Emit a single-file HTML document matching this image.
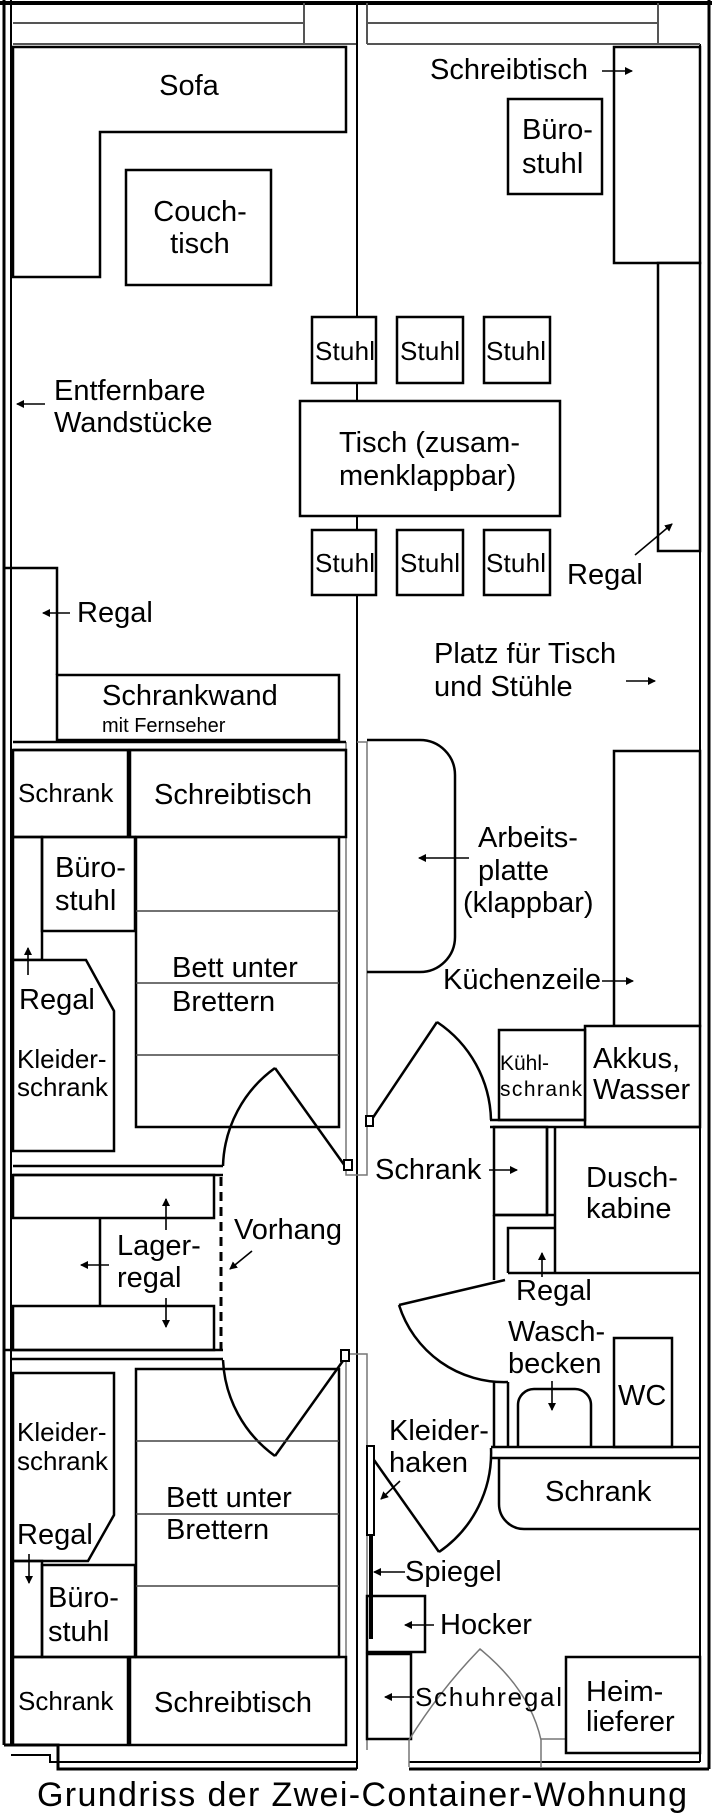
<!DOCTYPE html>
<html><head><meta charset="utf-8"><style>
html,body{margin:0;padding:0;background:#fff;}
svg{display:block;}
text{font-family:"Liberation Sans",sans-serif;fill:#000;}
</style></head><body>
<svg width="712" height="1817" viewBox="0 0 712 1817" xmlns="http://www.w3.org/2000/svg">
<defs>
<marker id="ah" markerWidth="8" markerHeight="8" refX="7" refY="4" orient="auto" markerUnits="userSpaceOnUse"><path d="M0,0 L8,4 L0,8 z" fill="#000"/></marker>
</defs>
<g fill="none" stroke="#000" stroke-width="2.5">
<line x1="0" y1="3" x2="712" y2="3" stroke-width="4"/>
<line x1="4" y1="0" x2="4" y2="1745" stroke-width="3"/>
<line x1="11" y1="0" x2="11" y2="1745" stroke-width="2"/>
<line x1="709" y1="0" x2="709" y2="1769" stroke-width="3"/>
<line x1="700" y1="44" x2="700" y2="1762" stroke-width="2"/>
<polyline points="4,1745 58,1745 58,1769 357,1769" stroke-width="3"/>
<polyline points="11,1755 50,1755 50,1762 357,1762" stroke-width="2"/>
<line x1="409" y1="1769" x2="709" y2="1769" stroke-width="3"/>
<line x1="409" y1="1762" x2="700" y2="1762" stroke-width="2"/>
<g stroke="#555" stroke-width="2">
<line x1="13" y1="23" x2="304" y2="23"/><line x1="367" y1="23" x2="658" y2="23"/>
<line x1="304" y1="3" x2="304" y2="44"/><line x1="658" y1="3" x2="658" y2="44"/>
<line x1="367" y1="3" x2="367" y2="44"/>
<line x1="13" y1="44" x2="357" y2="44"/><line x1="367" y1="44" x2="700" y2="44"/>
</g>
<line x1="357" y1="3" x2="357" y2="1769" stroke-width="2"/>
<g stroke="#777" stroke-width="1.5">
<polyline points="346,742 346,1175 357,1175"/>
<polyline points="357,742 367,742 367,1175 357,1175"/>
<polyline points="346,1354 367,1354 367,1750"/>
<line x1="346" y1="1354" x2="346" y2="1745"/>
</g>
<polygon points="13,47 346,47 346,132 100,132 100,277 13,277" fill="#fff"/>
<rect x="126" y="170" width="145" height="115" fill="#fff"/>
<rect x="614" y="47" width="86" height="216" fill="#fff"/>
<rect x="658" y="263" width="42" height="288" fill="#fff"/>
<rect x="508" y="99" width="94" height="95" fill="#fff"/>
<rect x="312" y="317" width="64" height="66" fill="#fff"/>
<rect x="397" y="317" width="66" height="66" fill="#fff"/>
<rect x="484" y="317" width="66" height="66" fill="#fff"/>
<rect x="300" y="401" width="260" height="115" fill="#fff"/>
<rect x="312" y="530" width="64" height="65" fill="#fff"/>
<rect x="397" y="530" width="66" height="65" fill="#fff"/>
<rect x="484" y="530" width="66" height="65" fill="#fff"/>
<polyline points="4,568 57,568 57,675"/>
<rect x="57" y="675" width="282" height="65" fill="#fff"/>
<line x1="13" y1="742" x2="346" y2="742"/>
<line x1="13" y1="750" x2="346" y2="750"/>
<rect x="13" y="750" width="115" height="87"/>
<rect x="130" y="750" width="216" height="87"/>
<rect x="42" y="837" width="93" height="94"/>
<rect x="13" y="837" width="29" height="123"/>
<rect x="136" y="837" width="203" height="290"/>
<g stroke-width="1.5" stroke="#444"><line x1="136" y1="911" x2="339" y2="911"/><line x1="136" y1="983" x2="339" y2="983"/><line x1="136" y1="1055" x2="339" y2="1055"/></g>
<polygon points="13,960 86,960 114,1011 114,1151 13,1151" fill="#fff"/>
<line x1="13" y1="1166" x2="223" y2="1166"/>
<line x1="13" y1="1175" x2="223" y2="1175"/>
<path d="M223,1166 A125,125 0 0 1 275,1068"/>
<line x1="275" y1="1068" x2="345" y2="1166"/>
<rect x="344" y="1160" width="8" height="10" fill="#fff" stroke-width="2"/>
<rect x="13" y="1175" width="201" height="43"/>
<line x1="100" y1="1218" x2="100" y2="1306"/>
<rect x="13" y="1306" width="201" height="44"/>
<line x1="221" y1="1177" x2="221" y2="1350" stroke-dasharray="9,6" stroke-width="3"/>
<line x1="4" y1="1350" x2="223" y2="1350"/>
<line x1="11" y1="1359" x2="223" y2="1359"/>
<path d="M223,1360 A125,125 0 0 0 275,1456"/>
<line x1="275" y1="1456" x2="345" y2="1358"/>
<rect x="341" y="1350" width="8" height="11" fill="#fff" stroke-width="2"/>
<polygon points="13,1373 114,1373 114,1515 88,1561 13,1561" fill="#fff"/>
<rect x="13" y="1561" width="29" height="96"/>
<rect x="42" y="1565" width="93" height="92"/>
<rect x="136" y="1369" width="203" height="288"/>
<g stroke-width="1.5" stroke="#444"><line x1="136" y1="1441" x2="339" y2="1441"/><line x1="136" y1="1514" x2="339" y2="1514"/><line x1="136" y1="1586" x2="339" y2="1586"/></g>
<rect x="13" y="1657" width="115" height="88"/>
<rect x="130" y="1657" width="216" height="88"/>
<path d="M367,740 L420,740 A35,35 0 0 1 455,775 L455,937 A35,35 0 0 1 420,972 L367,972"/>
<rect x="614" y="751" width="86" height="275" fill="#fff"/>
<rect x="585" y="1026" width="115" height="101" fill="#fff"/>
<rect x="499" y="1030" width="86" height="90" fill="#fff"/>
<line x1="490" y1="1120" x2="585" y2="1120"/>
<line x1="490" y1="1127" x2="700" y2="1127"/>
<path d="M437,1022 A121,121 0 0 1 491,1120"/>
<line x1="370" y1="1122" x2="437" y2="1022"/>
<rect x="366" y="1116" width="7" height="10" fill="#fff" stroke-width="2"/>
<rect x="494" y="1127" width="53" height="88"/>
<line x1="555" y1="1127" x2="555" y2="1273"/>
<line x1="547" y1="1127" x2="547" y2="1215"/>
<line x1="494" y1="1215" x2="555" y2="1215"/>
<polyline points="494,1215 494,1280"/>
<polyline points="508,1273 508,1228 555,1228"/>
<line x1="508" y1="1273" x2="700" y2="1273"/>
<line x1="505" y1="1280" x2="399" y2="1305"/>
<path d="M399,1305 A110,110 0 0 0 508,1382"/>
<line x1="494" y1="1382" x2="494" y2="1447"/>
<line x1="508" y1="1382" x2="508" y2="1447"/>
<path d="M518,1447 L518,1405 A16,16 0 0 1 534,1389 L575,1389 A16,16 0 0 1 591,1405 L591,1447"/>
<rect x="614" y="1338" width="58" height="109"/>
<line x1="491" y1="1447" x2="700" y2="1447"/>
<line x1="491" y1="1458" x2="700" y2="1458"/>
<path d="M499,1458 L499,1504 A25,25 0 0 0 524,1529 L700,1529"/>
<rect x="367" y="1446" width="7" height="89" stroke-width="2"/>
<line x1="371" y1="1535" x2="371" y2="1639" stroke-width="4"/>
<path d="M491,1448 A120,120 0 0 1 439,1552"/>
<line x1="439" y1="1552" x2="374" y2="1460"/>
<rect x="367" y="1596" width="58" height="56"/>
<rect x="367" y="1654" width="44" height="85"/>
<g stroke="#777" stroke-width="1.5">
<path d="M409,1767 L409,1740 Q440,1690 480,1649 Q530,1690 541,1740 L541,1767"/>
<line x1="541" y1="1739" x2="566" y2="1739"/>
</g>
<rect x="566" y="1657" width="134" height="96" fill="#fff"/>
</g>
<g stroke="#000" stroke-width="1.6" fill="none" marker-end="url(#ah)">
<line x1="602" y1="71" x2="632" y2="71"/>
<line x1="635" y1="555" x2="672" y2="524"/>
<line x1="45" y1="404" x2="17" y2="404"/>
<line x1="70" y1="613" x2="43" y2="613"/>
<line x1="626" y1="681" x2="655" y2="681"/>
<line x1="469" y1="858" x2="419" y2="858"/>
<line x1="602" y1="981" x2="633" y2="981"/>
<line x1="28" y1="975" x2="28" y2="948"/>
<line x1="489" y1="1170" x2="517" y2="1170"/>
<line x1="166" y1="1230" x2="166" y2="1199"/>
<line x1="109" y1="1265" x2="81" y2="1265"/>
<line x1="166" y1="1298" x2="166" y2="1327"/>
<line x1="252" y1="1251" x2="230" y2="1269"/>
<line x1="542" y1="1277" x2="542" y2="1253"/>
<line x1="552" y1="1381" x2="552" y2="1410"/>
<line x1="29" y1="1554" x2="29" y2="1583"/>
<line x1="400" y1="1481" x2="381" y2="1499"/>
<line x1="405" y1="1572" x2="374" y2="1572"/>
<line x1="434" y1="1625" x2="405" y2="1625"/>
<line x1="414" y1="1697" x2="385" y2="1697"/>
</g>
<g font-size="29">
<text x="189" y="95" text-anchor="middle">Sofa</text>
<text x="200" y="221" text-anchor="middle">Couch-</text>
<text x="200" y="253" text-anchor="middle">tisch</text>
<text x="430" y="79">Schreibtisch</text>
<text x="522" y="139">Büro-</text>
<text x="522" y="173">stuhl</text>
<text x="54" y="400">Entfernbare</text>
<text x="54" y="432">Wandstücke</text>
<text x="339" y="452">Tisch (zusam-</text>
<text x="339" y="485">menklappbar)</text>
<text x="567" y="584">Regal</text>
<text x="77" y="622">Regal</text>
<text x="434" y="663">Platz für Tisch</text>
<text x="434" y="696">und Stühle</text>
<text x="102" y="705">Schrankwand</text>
<text x="154" y="804">Schreibtisch</text>
<text x="55" y="877">Büro-</text>
<text x="55" y="910">stuhl</text>
<text x="478" y="847">Arbeits-</text>
<text x="478" y="880">platte</text>
<text x="463" y="912">(klappbar)</text>
<text x="172" y="977">Bett unter</text>
<text x="172" y="1011">Brettern</text>
<text x="19" y="1009">Regal</text>
<text x="443" y="989">Küchenzeile</text>
<text x="593" y="1068">Akkus,</text>
<text x="593" y="1099">Wasser</text>
<text x="375" y="1179">Schrank</text>
<text x="586" y="1187">Dusch-</text>
<text x="586" y="1218">kabine</text>
<text x="234" y="1239">Vorhang</text>
<text x="117" y="1255">Lager-</text>
<text x="117" y="1287">regal</text>
<text x="516" y="1300">Regal</text>
<text x="508" y="1341">Wasch-</text>
<text x="508" y="1373">becken</text>
<text x="618" y="1405">WC</text>
<text x="389" y="1440">Kleider-</text>
<text x="389" y="1472">haken</text>
<text x="545" y="1501">Schrank</text>
<text x="166" y="1507">Bett unter</text>
<text x="166" y="1539">Brettern</text>
<text x="17" y="1544">Regal</text>
<text x="405" y="1581">Spiegel</text>
<text x="48" y="1607">Büro-</text>
<text x="48" y="1641">stuhl</text>
<text x="440" y="1634">Hocker</text>
<text x="586" y="1701">Heim-</text>
<text x="586" y="1731">lieferer</text>
<text x="154" y="1712">Schreibtisch</text>
</g>
<g font-size="26">
<text x="315" y="360" textLength="60">Stuhl</text>
<text x="400" y="360" textLength="60">Stuhl</text>
<text x="486" y="360" textLength="60">Stuhl</text>
<text x="315" y="572" textLength="60">Stuhl</text>
<text x="400" y="572" textLength="60">Stuhl</text>
<text x="486" y="572" textLength="60">Stuhl</text>
<text x="18" y="802">Schrank</text>
<text x="17" y="1068">Kleider-</text>
<text x="17" y="1096">schrank</text>
<text x="17" y="1441">Kleider-</text>
<text x="17" y="1470">schrank</text>
<text x="18" y="1710">Schrank</text>
<text x="415" y="1706" textLength="147">Schuhregal</text>
</g>
<text x="102" y="732" font-size="20">mit Fernseher</text>
<text x="500" y="1070" font-size="21">Kühl-</text>
<text x="500" y="1096" font-size="21" textLength="82">schrank</text>
<text x="37" y="1806" font-size="34" textLength="650">Grundriss der Zwei-Container-Wohnung</text>
</svg>
</body></html>
